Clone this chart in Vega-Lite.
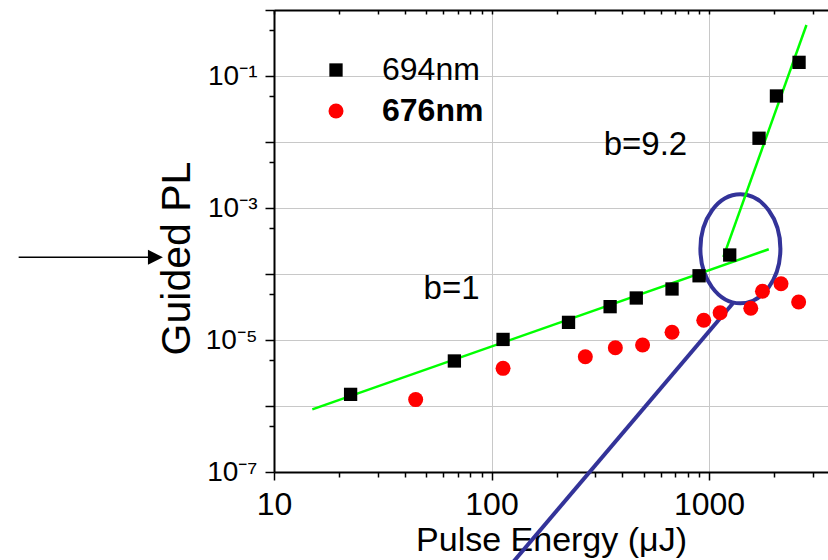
{
  "$schema": "https://vega.github.io/schema/vega-lite/v6.json",
  "width": 554,
  "height": 462,
  "autosize": {"type": "none"},
  "padding": {"left": 274, "top": 10, "right": 0, "bottom": 88},
  "background": "white",
  "config": {
    "font": "Liberation Sans",
    "view": {"stroke": null},
    "axis": {
      "domainColor": "black",
      "domainWidth": 2,
      "tickColor": "black",
      "tickWidth": 1.5,
      "labelColor": "black",
      "titleColor": "black",
      "gridColor": "#c8c8c8",
      "gridWidth": 1,
      "labelFont": "Liberation Sans",
      "titleFont": "Liberation Sans",
      "titleFontWeight": "normal",
      "labelFlush": false,
      "labelOverlap": false,
      "labelBound": false
    }
  },
  "datasets": {
    "pts": [
      {"energy": 22.5, "pl": 1.5e-6, "series": "694nm"},
      {"energy": 67.5, "pl": 4.81e-6, "series": "694nm"},
      {"energy": 113, "pl": 1.02e-5, "series": "694nm"},
      {"energy": 226, "pl": 1.85e-5, "series": "694nm"},
      {"energy": 351, "pl": 3.2e-5, "series": "694nm"},
      {"energy": 463, "pl": 4.33e-5, "series": "694nm"},
      {"energy": 676, "pl": 5.93e-5, "series": "694nm"},
      {"energy": 900, "pl": 9.4e-5, "series": "694nm"},
      {"energy": 1245, "pl": 1.94e-4, "series": "694nm"},
      {"energy": 1698, "pl": 0.0114, "series": "694nm"},
      {"energy": 2042, "pl": 0.0498, "series": "694nm"},
      {"energy": 2594, "pl": 0.161, "series": "694nm"},
      {"energy": 44.8, "pl": 1.25e-6, "series": "676nm"},
      {"energy": 113, "pl": 3.72e-6, "series": "676nm"},
      {"energy": 270, "pl": 5.58e-6, "series": "676nm"},
      {"energy": 371, "pl": 7.64e-6, "series": "676nm"},
      {"energy": 495, "pl": 8.4e-6, "series": "676nm"},
      {"energy": 676, "pl": 1.31e-5, "series": "676nm"},
      {"energy": 946, "pl": 1.99e-5, "series": "676nm"},
      {"energy": 1125, "pl": 2.59e-5, "series": "676nm"},
      {"energy": 1556, "pl": 3.02e-5, "series": "676nm"},
      {"energy": 1761, "pl": 5.47e-5, "series": "676nm"},
      {"energy": 2143, "pl": 7.13e-5, "series": "676nm"},
      {"energy": 2583, "pl": 3.77e-5, "series": "676nm"}
    ],
    "fits": [
      {"energy": 15, "pl": 8.9e-7, "fit": "b=1"},
      {"energy": 1882, "pl": 2.37e-4, "fit": "b=1"},
      {"energy": 1164, "pl": 1.81e-4, "fit": "b=9.2"},
      {"energy": 2805, "pl": 0.593, "fit": "b=9.2"}
    ],
    "notes": [
      {"energy": 48.7, "pl": 4.14e-5, "note": "b=1"},
      {"energy": 328, "pl": 6.35e-3, "note": "b=9.2"}
    ],
    "ring": [{"energy": 1394, "pl": 2.41e-4}],
    "pointer": [
      {"energy": 107, "pl": 2.31e-9},
      {"energy": 1288, "pl": 3.6e-5}
    ],
    "arrow": [{"from": 0.67, "to": 2.85, "pl": 1.79e-4}]
  },
  "layer": [
    {
      "data": {"name": "ring"},
      "mark": {"type": "point", "shape": "M -0.734,0 A 0.734,1 0 1,1 0.734,0 A 0.734,1 0 1,1 -0.734,0 Z", "size": 11881, "filled": false, "color": "#333399", "strokeWidth": 4, "opacity": 1},
      "encoding": {
        "x": {"field": "energy", "type": "quantitative", "scale": {"type": "log", "domain": [10, 3524], "nice": false},
          "axis": {"orient": "bottom", "values": [10, 100, 1000], "labelExpr": "format(datum.value, 'd')", "tickSize": 8, "labelFontSize": 32, "labelPadding": 9, "grid": true, "title": "Pulse Energy (μJ)", "titleFontSize": 34, "titlePadding": 3}},
        "y": {"field": "pl", "type": "quantitative", "scale": {"type": "log", "domain": [1e-7, 1], "nice": false},
          "axis": {"orient": "left", "values": [1e-7, 1e-6, 1e-5, 1e-4, 1e-3, 1e-2, 1e-1, 1], "labelExpr": "round(log(datum.value)/LN10) == -1 ? '10⁻¹' : round(log(datum.value)/LN10) == -3 ? '10⁻³' : round(log(datum.value)/LN10) == -5 ? '10⁻⁵' : round(log(datum.value)/LN10) == -7 ? '10⁻⁷' : ''", "tickSize": 9, "labelFontSize": 28, "labelPadding": 8, "grid": true, "title": "Guided PL", "titleFontSize": 41, "titlePadding": 7, "titleY": 248}}
      }
    },
    {
      "data": {"name": "pointer"},
      "mark": {"type": "line", "color": "#333399", "strokeWidth": 4},
      "encoding": {
        "x": {"field": "energy", "type": "quantitative", "scale": {"type": "log", "domain": [10, 3524], "nice": false},
          "axis": {"orient": "bottom", "values": [20, 30, 40, 50, 60, 70, 80, 90, 200, 300, 400, 500, 600, 700, 800, 900, 2000, 3000], "tickSize": 5, "labels": false, "grid": false, "domain": false, "title": null}},
        "y": {"field": "pl", "type": "quantitative", "scale": {"type": "log", "domain": [1e-7, 1], "nice": false},
          "axis": {"orient": "left", "values": [5e-7, 5e-6, 5e-5, 5e-4, 5e-3, 5e-2, 5e-1], "tickSize": 5, "labels": false, "grid": false, "domain": false, "title": null}}
      }
    },
    {
      "data": {"name": "fits"},
      "mark": {"type": "line", "color": "#00ff00", "strokeWidth": 2.5},
      "encoding": {
        "x": {"field": "energy", "type": "quantitative", "scale": {"type": "log", "domain": [10, 3524], "nice": false},
          "axis": {"orient": "top", "values": [10, 20, 30, 40, 50, 60, 70, 80, 90, 100, 200, 300, 400, 500, 600, 700, 800, 900, 1000, 2000, 3000], "tickSize": -4, "labels": false, "grid": false, "domain": true, "title": null}},
        "y": {"field": "pl", "type": "quantitative", "scale": {"type": "log", "domain": [1e-7, 1], "nice": false}, "axis": null},
        "detail": {"field": "fit"}
      }
    },
    {
      "data": {"name": "pts"},
      "mark": {"type": "point", "filled": true, "opacity": 1, "strokeWidth": 0},
      "encoding": {
        "x": {"field": "energy", "type": "quantitative", "scale": {"type": "log", "domain": [10, 3524], "nice": false}, "axis": null},
        "y": {"field": "pl", "type": "quantitative", "scale": {"type": "log", "domain": [1e-7, 1], "nice": false}, "axis": null},
        "color": {"field": "series", "type": "nominal", "scale": {"domain": ["694nm", "676nm"], "range": ["black", "red"]},
          "legend": {"orient": "none", "legendX": 46, "legendY": 44, "title": null, "labelFontSize": 32, "labelColor": "black", "labelOffset": 30, "rowPadding": 9, "padding": 0, "symbolStrokeWidth": 0,
            "labelFontWeight": {"expr": "datum.label === '676nm' ? 'bold' : 'normal'"}}},
        "shape": {"field": "series", "type": "nominal", "scale": {"domain": ["694nm", "676nm"], "range": ["square", "circle"]},
          "legend": {"orient": "none", "legendX": 46, "legendY": 44, "title": null, "labelFontSize": 32, "labelColor": "black", "labelOffset": 30, "rowPadding": 9, "padding": 0, "symbolStrokeWidth": 0,
            "labelFontWeight": {"expr": "datum.label === '676nm' ? 'bold' : 'normal'"}}},
        "size": {"field": "series", "type": "nominal", "scale": {"domain": ["694nm", "676nm"], "range": [177, 225]},
          "legend": {"orient": "none", "legendX": 46, "legendY": 44, "title": null, "labelFontSize": 32, "labelColor": "black", "labelOffset": 30, "rowPadding": 9, "padding": 0, "symbolStrokeWidth": 0,
            "labelFontWeight": {"expr": "datum.label === '676nm' ? 'bold' : 'normal'"}}}
      }
    },
    {
      "data": {"name": "notes"},
      "mark": {"type": "text", "align": "left", "baseline": "alphabetic", "fontSize": 33, "color": "black", "font": "Liberation Sans"},
      "encoding": {
        "x": {"field": "energy", "type": "quantitative", "scale": {"type": "log", "domain": [10, 3524], "nice": false}, "axis": null},
        "y": {"field": "pl", "type": "quantitative", "scale": {"type": "log", "domain": [1e-7, 1], "nice": false}, "axis": null},
        "text": {"field": "note"}
      }
    },
    {
      "data": {"name": "arrow"},
      "mark": {"type": "rule", "color": "black", "strokeWidth": 1.5},
      "encoding": {
        "x": {"field": "from", "type": "quantitative", "scale": {"type": "log", "domain": [10, 3524], "nice": false}, "axis": null},
        "x2": {"field": "to"},
        "y": {"field": "pl", "type": "quantitative", "scale": {"type": "log", "domain": [1e-7, 1], "nice": false}, "axis": null}
      }
    },
    {
      "data": {"name": "arrow"},
      "mark": {"type": "point", "shape": "M -1,-1 L 1,0 L -1,1 Z", "size": 225, "filled": true, "color": "black", "opacity": 1, "strokeWidth": 0},
      "encoding": {
        "x": {"field": "to", "type": "quantitative", "scale": {"type": "log", "domain": [10, 3524], "nice": false}, "axis": null},
        "y": {"field": "pl", "type": "quantitative", "scale": {"type": "log", "domain": [1e-7, 1], "nice": false}, "axis": null}
      }
    }
  ],
  "resolve": {"axis": {"x": "independent", "y": "independent"}}
}
